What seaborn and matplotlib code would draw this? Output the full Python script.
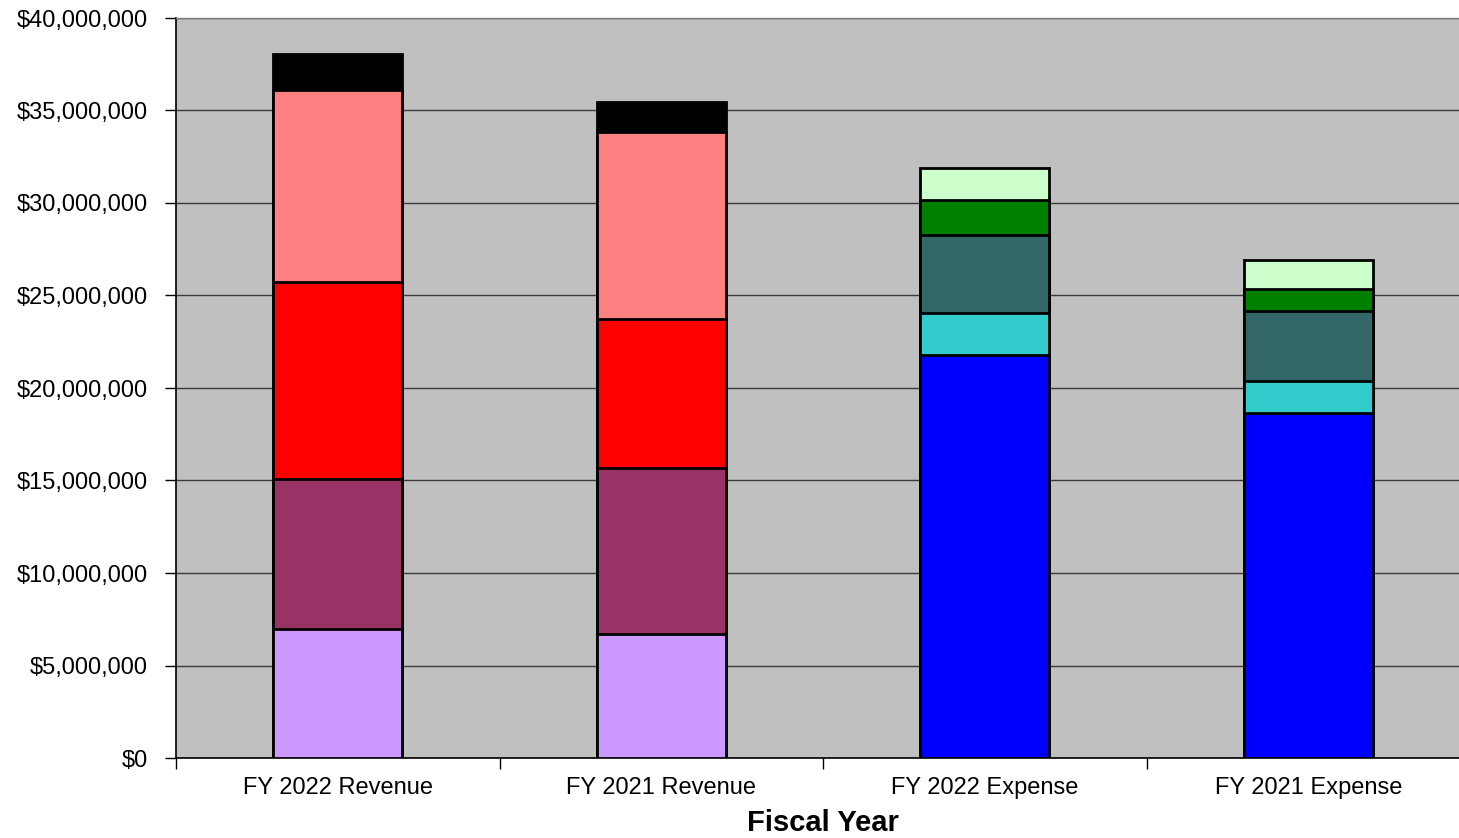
import matplotlib
matplotlib.use("Agg")
import matplotlib.pyplot as plt
import matplotlib.ticker as mticker
import seaborn as sns
import numpy as np
import pandas as pd

categories = ["FY 2022 Revenue", "FY 2021 Revenue", "FY 2022 Expense", "FY 2021 Expense"]

# Stacked segment heights (bottom -> top), in dollars
layer1 = [6.97e6, 6.70e6, 21.78e6, 18.65e6]
layer2 = [8.11e6, 8.98e6, 2.27e6, 1.73e6]
layer3 = [10.65e6, 8.05e6, 4.22e6, 3.78e6]
layer4 = [10.38e6, 10.11e6, 1.89e6, 1.19e6]
layer5 = [1.94e6, 1.62e6, 1.73e6, 1.57e6]

revenue_colors = ["#CC99FF", "#993366", "#FF0000", "#FF8080", "#000000"]
expense_colors = ["#0000FF", "#33CCCC", "#336666", "#008000", "#CCFFCC"]

y_ticks = list(range(0, 40000001, 5000000))

sns.set_theme(style="white")
plt.rcParams["font.family"] = ["Liberation Sans", "DejaVu Sans"]
plt.rcParams["text.color"] = "black"
plt.rcParams["xtick.color"] = "black"
plt.rcParams["ytick.color"] = "black"
plt.rcParams["axes.labelcolor"] = "black"

fig = plt.figure(figsize=(14.59, 8.38), dpi=100)
ax = fig.add_axes([176 / 1459, 1 - 758 / 838, (1470 - 176) / 1459, (758 - 18) / 838])
ax.set_facecolor("#C0C0C0")

layers = [layer1, layer2, layer3, layer4, layer5]
cum = np.cumsum(np.array(layers), axis=0)
# draw from the top layer down so lower segments cover the upper totals
for i in range(len(layers) - 1, -1, -1):
    df = pd.DataFrame({"cat": categories, "val": cum[i]})
    pal = {categories[0]: revenue_colors[i], categories[1]: revenue_colors[i],
           categories[2]: expense_colors[i], categories[3]: expense_colors[i]}
    sns.barplot(data=df, x="cat", y="val", hue="cat", palette=pal, order=categories,
                hue_order=categories, legend=False, dodge=False, width=0.4,
                edgecolor="black", linewidth=2, saturation=1, ax=ax, zorder=3)

ax.set_ylim(0, 40000000)
ax.set_xlim(-0.5, 3.5)
ax.set_yticks(y_ticks)
ax.yaxis.set_major_formatter(mticker.FuncFormatter(lambda v, p: f"${v:,.0f}"))
ax.yaxis.grid(True, color="#3a3a3a", linewidth=1, zorder=0)
ax.set_axisbelow(True)

ax.set_xticks([-0.5, 0.5, 1.5, 2.5, 3.5])
ax.set_xticklabels([])
ax.set_xticks([0, 1, 2, 3], minor=True)
ax.set_xticklabels(categories, minor=True)
ax.tick_params(axis="x", which="minor", length=0, pad=14, labelsize=17)
ax.tick_params(axis="x", which="major", length=8, width=1, color="black", direction="out")
ax.tick_params(axis="y", length=8, width=1, color="black", direction="out", pad=12, labelsize=17)
ax.tick_params(axis="both", bottom=True, left=True)

for s in ["left", "bottom"]:
    ax.spines[s].set_color("black")
    ax.spines[s].set_linewidth(1.2)
for s in ["top", "right"]:
    ax.spines[s].set_color("#808080")
    ax.spines[s].set_linewidth(1)

ax.set_xlabel("Fiscal Year", fontsize=21, fontweight="bold", labelpad=7)
ax.set_ylabel("")

fig.savefig("out.png", dpi=100)
